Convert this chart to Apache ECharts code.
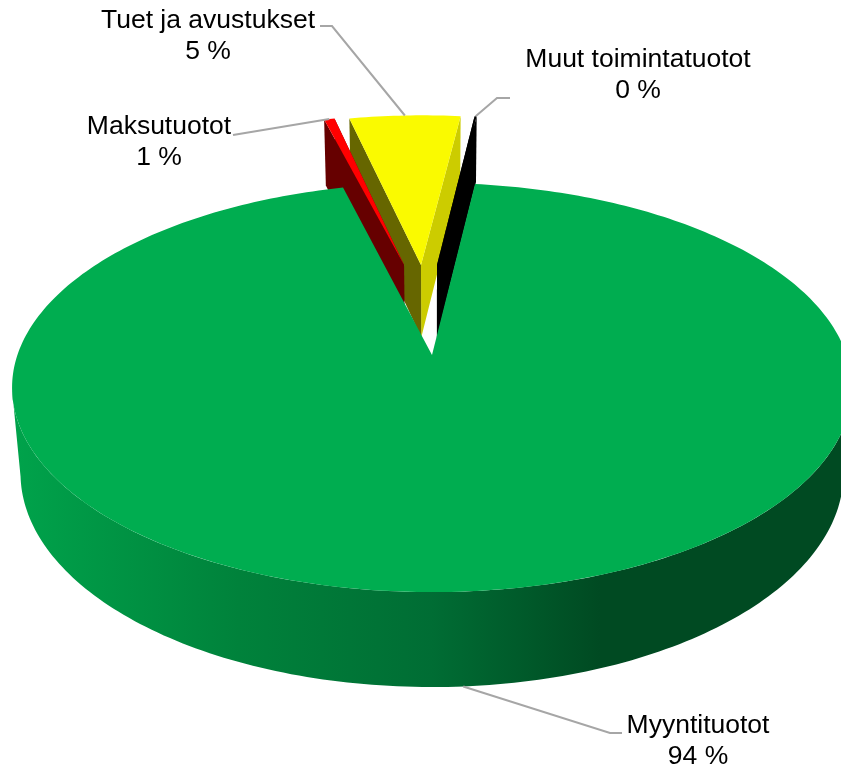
<!DOCTYPE html>
<html>
<head>
<meta charset="utf-8">
<style>
  html, body { margin: 0; padding: 0; background: #fff; }
  #chart { width: 841px; height: 769px; }
</style>
<script src="https://cdn.jsdelivr.net/npm/echarts@6/dist/echarts.min.js"></script>
</head>
<body>
<div id="chart"></div>
<script>
const categories = ['Myyntituotot', 'Maksutuotot', 'Tuet ja avustukset', 'Muut toimintatuotot']
const shares = [94.1, 0.5, 5.3, 0.1]

const firstSliceAngle = 6.9
const topColors = ['#00AD50', '#FF0000', '#FAFA00', '#000000']
const leftWallColors = ['#00AD50', '#660000', '#666600', '#000000']
const rightWallColors = ['#00AD50', '#660000', '#CCCC00', '#000000']
const drawOrder = [30, 20, 10, 25] // green in front, yellow at the back
const explodeU = [0, -0.0727, -0.0286, 0.013]
const explodeV = [0, 0.486, 0.486, 0.486]
const depthScale = [1, 0.9, 0.9, 0.9]

// label centre, then leader line bend points
const labelX = [698, 159, 208, 638]
const labelY = [741, 142, 36, 75]
const leaderBends = [
  [[610, 733], [622, 733]],
  [[233, 135]],
  [[332, 26], [320, 26]],
  [[497, 98], [510, 98]]
]

// simple perspective for the tilted disc
const centerX = 432
const centerY = 355
const scaleX = 414.6
const scaleY = 199.4
const tiltK = 0.159
const shrinkM = 0.02
const depth = 86.5

function project(u, v, h, dScale) {
  const w = 1 + tiltK * v + shrinkM * h
  return [
    centerX + scaleX * u / w,
    centerY + (-scaleY * v + depth * dScale * h) / w
  ]
}

function rad(deg) {
  return deg * Math.PI / 180
}

function rimPoint(i, deg, h) {
  return project(
    explodeU[i] + Math.sin(rad(deg)),
    explodeV[i] + Math.cos(rad(deg)),
    h,
    depthScale[i]
  )
}

function sliceAngles() {
  const total = shares.reduce((a, b) => a + b, 0)
  let acc = firstSliceAngle
  return shares.map(s => {
    const start = acc
    acc += s / total * 360
    return [start, acc]
  })
}
const angles = sliceAngles()

function topFace(i) {
  const pts = [project(explodeU[i], explodeV[i], 0, 1)]
  const [a, b] = angles[i]
  const steps = Math.max(2, Math.ceil(b - a))
  for (let k = 0; k <= steps; k++) {
    pts.push(rimPoint(i, a + (b - a) * k / steps, 0))
  }
  return pts
}

function cutWall(i, deg) {
  return [
    project(explodeU[i], explodeV[i], 0, 1),
    rimPoint(i, deg, 0),
    rimPoint(i, deg, 1),
    project(explodeU[i], explodeV[i], 1, depthScale[i])
  ]
}

function outerWall(i) {
  const from = 90 + Math.asin(tiltK) * 180 / Math.PI
  const to = 360 - from
  const upper = []
  const lower = []
  for (let d = from; d <= to; d += 1) {
    upper.push(rimPoint(i, d, 0))
    lower.unshift(rimPoint(i, d, 1))
  }
  return upper.concat(lower)
}

function renderSlice(params, api) {
  const i = params.dataIndex
  const z = drawOrder[i]
  const [a, b] = angles[i]
  const children = []

  if (i === 0) {
    children.push({
      type: 'polygon',
      z2: z,
      shape: { points: outerWall(i) },
      style: {
        fill: new echarts.graphic.LinearGradient(0, 0, 1, 0, [
          { offset: 0, color: '#00A34B' },
          { offset: 0.27, color: '#00823B' },
          { offset: 0.5, color: '#006D34' },
          { offset: 0.7, color: '#004A22' },
          { offset: 1, color: '#004A22' }
        ])
      }
    })
  } else {
    children.push({
      type: 'polygon',
      z2: z,
      shape: { points: cutWall(i, b) },
      style: { fill: rightWallColors[i] }
    })
    children.push({
      type: 'polygon',
      z2: z,
      shape: { points: cutWall(i, a) },
      style: { fill: leftWallColors[i] }
    })
  }

  children.push({
    type: 'polygon',
    z2: z + 1,
    shape: { points: topFace(i) },
    style: { fill: topColors[i] }
  })

  // leader line starts on the rim at the middle of the slice
  const mid = (a + b) / 2
  const anchor = rimPoint(i, mid, i === 0 ? 1 : 0)
  children.push({
    type: 'polyline',
    z2: 40,
    shape: { points: [anchor].concat(leaderBends[i]) },
    style: { stroke: '#A6A6A6', lineWidth: 2, fill: null }
  })

  children.push({
    type: 'text',
    z2: 50,
    x: labelX[i],
    y: labelY[i],
    style: {
      text: categories[i] + '\n' + Math.round(api.value(0)) + ' %',
      fill: '#000',
      font: '26.5px "Liberation Sans", Arial, sans-serif',
      lineHeight: 31,
      align: 'center',
      verticalAlign: 'middle'
    }
  })

  return { type: 'group', children }
}

const chart = echarts.init(document.getElementById('chart'))
chart.setOption({
  animation: false,
  series: [{
    type: 'custom',
    coordinateSystem: 'none',
    silent: true,
    renderItem: renderSlice,
    data: shares.map((s, i) => ({ name: categories[i], value: [s] }))
  }]
})
</script>
</body>
</html>
